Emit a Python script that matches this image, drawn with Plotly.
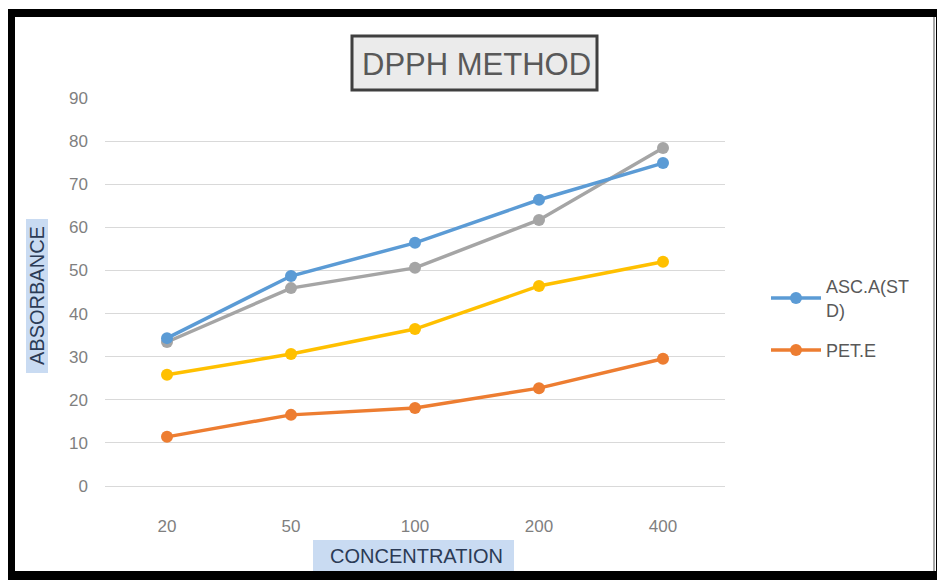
import plotly.graph_objects as go

categories = ["20", "50", "100", "200", "400"]
asc_std = [34.3, 48.7, 56.4, 66.4, 74.9]
pet_e = [11.4, 16.5, 18.1, 22.7, 29.5]
series_gray = [33.4, 45.9, 50.6, 61.7, 78.4]
series_yellow = [25.8, 30.6, 36.4, 46.4, 52.0]
y_ticks = [0, 10, 20, 30, 40, 50, 60, 70, 80, 90]

W, H = 937, 580
L, T = 105, 98
PW, PH = 620, 388
R, B = W - L - PW, H - T - PH


def px(x):
    return (x - L) / PW


def py(y):
    return (T + PH - y) / PH


fig = go.Figure()

fig.add_trace(go.Scatter(x=categories, y=series_gray, mode="lines+markers", showlegend=False,
                         line=dict(color="#A5A5A5", width=3.5), marker=dict(size=12, color="#A5A5A5")))
fig.add_trace(go.Scatter(x=categories, y=series_yellow, mode="lines+markers", showlegend=False,
                         line=dict(color="#FFC000", width=3.5), marker=dict(size=12, color="#FFC000")))
fig.add_trace(go.Scatter(x=categories, y=asc_std, mode="lines+markers", name="ASC.A(ST<br>D)",
                         legendgroup="asc",
                         line=dict(color="#5B9BD5", width=3.5), marker=dict(size=12, color="#5B9BD5")))
fig.add_trace(go.Scatter(x=categories, y=pet_e, mode="lines+markers", name="PET.E",
                         legendgroup="pet",
                         line=dict(color="#ED7D31", width=3.5), marker=dict(size=12, color="#ED7D31")))

shapes = [
    # black frame
    dict(type="rect", xref="paper", yref="paper", x0=px(8), x1=px(945), y0=py(17), y1=py(9),
         fillcolor="black", line=dict(width=0), layer="above"),
    dict(type="rect", xref="paper", yref="paper", x0=px(8), x1=px(15), y0=py(590), y1=py(9),
         fillcolor="black", line=dict(width=0), layer="above"),
    dict(type="rect", xref="paper", yref="paper", x0=px(8), x1=px(945), y0=py(590), y1=py(571),
         fillcolor="black", line=dict(width=0), layer="above"),
    dict(type="rect", xref="paper", yref="paper", x0=px(933), x1=px(935), y0=py(571), y1=py(17),
         fillcolor="#a8a8a8", line=dict(width=0), layer="above"),
    dict(type="rect", xref="paper", yref="paper", x0=px(936), x1=px(945), y0=py(590), y1=py(9),
         fillcolor="black", line=dict(width=0), layer="above"),
    # title box
    dict(type="rect", xref="paper", yref="paper", x0=px(352), x1=px(597), y0=py(90), y1=py(36),
         fillcolor="#ebebeb", line=dict(color="#3f3f3f", width=3), layer="above"),
    # axis title boxes
    dict(type="rect", xref="paper", yref="paper", x0=px(26), x1=px(48), y0=py(373), y1=py(219),
         fillcolor="#c9dbf2", line=dict(width=0), layer="below"),
    dict(type="rect", xref="paper", yref="paper", x0=px(313), x1=px(514), y0=py(571), y1=py(540),
         fillcolor="#c9dbf2", line=dict(width=0), layer="below"),
]

annotations = [
    dict(text="DPPH METHOD", xref="paper", yref="paper", x=px(476), y=py(64), showarrow=False,
         font=dict(family="Liberation Sans", size=31, color="#595959"), xanchor="center", yanchor="middle"),
    dict(text="ABSORBANCE", xref="paper", yref="paper", x=px(37), y=py(296), showarrow=False, textangle=-90,
         font=dict(family="Liberation Sans", size=20, color="#2b3a55"), xanchor="center", yanchor="middle"),
    dict(text="CONCENTRATION", xref="paper", yref="paper", x=px(417), y=py(556), showarrow=False,
         font=dict(family="Liberation Sans", size=20, color="#2b3a55"), xanchor="center", yanchor="middle"),
]

fig.update_layout(
    width=W, height=H,
    margin=dict(l=L, r=R, t=T, b=B),
    paper_bgcolor="white", plot_bgcolor="white",
    shapes=shapes, annotations=annotations,
    font=dict(family="Liberation Sans", color="#7f7f7f", size=17),
    legend=dict(x=px(766), y=py(268), xanchor="left", yanchor="top",
                font=dict(size=18, color="#595959"), itemwidth=50, bgcolor="rgba(0,0,0,0)",
                tracegroupgap=14),
    xaxis=dict(type="category", range=[-0.5, 4.5], showgrid=False, showline=False, ticks="",
               ticklabelstandoff=28, tickfont=dict(size=17, color="#7f7f7f")),
    yaxis=dict(range=[0, 90], tickvals=y_ticks, showgrid=True, gridcolor="#d9d9d9", gridwidth=1,
               zeroline=True, zerolinecolor="#d9d9d9", zerolinewidth=1, showline=False,
               ticklabelstandoff=16, tickfont=dict(size=17, color="#7f7f7f")),
)

fig.write_html("out.html", config={"displayModeBar": False},
               post_script="document.body.style.margin='0px';document.body.style.overflow='hidden';")
